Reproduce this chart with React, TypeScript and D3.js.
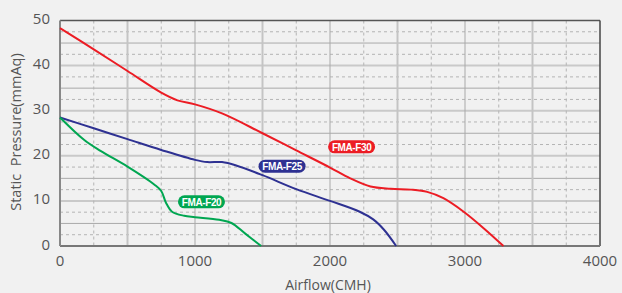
import * as d3 from "d3";

const W = 622;
const H = 293;
const MARGIN = { top: 20.5, right: 22, bottom: 47, left: 60 };

const xTicks = [0, 1000, 2000, 3000, 4000];
const yTicks = [0, 10, 20, 30, 40, 50];

// [airflow, pressure]
const f30: [number, number][] = [
  [0, 48.3], [250, 43.6], [500, 38.8], [750, 34.0], [870, 32.3], [1000, 31.4],
  [1200, 29.4], [1500, 25.0], [1750, 21.2], [2000, 17.4], [2150, 15.0],
  [2300, 13.2], [2450, 12.7], [2600, 12.5], [2720, 12.0], [2840, 10.6],
  [2990, 7.6], [3140, 3.9], [3285, 0],
];
const f25: [number, number][] = [
  [0, 28.5], [250, 26.1], [500, 23.7], [750, 21.3], [1000, 19.1], [1090, 18.6],
  [1200, 18.6], [1300, 17.9], [1500, 15.7], [1750, 12.6], [2000, 10.0],
  [2220, 7.6], [2320, 5.9], [2400, 3.6], [2490, 0],
];
const f20: [number, number][] = [
  [0, 28.5], [180, 23.5], [300, 21.1], [500, 17.6], [700, 13.6], [750, 12.2],
  [785, 9.6], [830, 7.6], [920, 6.7], [1000, 6.4], [1180, 5.8], [1270, 5.1],
  [1370, 2.8], [1490, 0],
];

const series = [
  { name: "FMA-F30", data: f30, color: "#ec1c24", label: [2160, 22.0] },
  { name: "FMA-F25", data: f25, color: "#2e3192", label: [1645, 17.7] },
  { name: "FMA-F20", data: f20, color: "#00a651", label: [1048, 9.8] },
];

export default function App() {
  const iw = W - MARGIN.left - MARGIN.right;
  const ih = H - MARGIN.top - MARGIN.bottom;
  const x = d3.scaleLinear().domain([0, 4000]).range([0, iw]);
  const y = d3.scaleLinear().domain([0, 50]).range([ih, 0]);

  const line = d3
    .line<[number, number]>()
    .x((d) => x(d[0]))
    .y((d) => y(d[1]))
    .curve(d3.curveCatmullRom.alpha(0.5));

  const vLines = d3.range(250, 4000, 250);
  const hLines = d3.range(2.5, 50, 2.5);

  return (
    <>
      <style>{`body{margin:0;background:#f1f1f1}`}</style>
      <svg width={W} height={H} style={{ display: "block", background: "#f1f1f1" }}>
        <g transform={`translate(${MARGIN.left},${MARGIN.top})`}>
          {hLines.map((v) => {
            const k = Math.round(v * 10) % 100;
            const major = k === 0;
            const solid = k === 50;
            return (
              <line
                key={"h" + v}
                x1={0}
                x2={iw}
                y1={y(v)}
                y2={y(v)}
                stroke={major ? "#c9c9c9" : solid ? "#a9a9a9" : "#b4b4b4"}
                strokeWidth={major ? 2 : 1}
                strokeDasharray={major || solid ? undefined : "3,3"}
              />
            );
          })}
          {vLines.map((v) => {
            const solid = v % 500 === 0;
            const light = v % 1000 === 500;
            return (
              <line
                key={"v" + v}
                x1={x(v)}
                x2={x(v)}
                y1={0}
                y2={ih}
                stroke={solid ? (light ? "#c4c4c4" : "#a9a9a9") : "#b4b4b4"}
                strokeWidth={solid && light ? 2 : 1}
                strokeDasharray={solid ? undefined : "3,3"}
              />
            );
          })}
          <line x1={0} x2={iw} y1={0} y2={0} stroke="#555" strokeWidth={1.5} />
          <line x1={iw} x2={iw} y1={0} y2={ih} stroke="#444" strokeWidth={1.5} />
          <line x1={0} x2={iw} y1={ih} y2={ih} stroke="#777" strokeWidth={2} />
          <line x1={0} x2={0} y1={0} y2={ih} stroke="#888" strokeWidth={2} />

          {series.map((s) => (
            <path key={s.name} d={line(s.data) ?? ""} fill="none" stroke={s.color} strokeWidth={2} />
          ))}

          {series.map((s) => {
            const cx = x(s.label[0]);
            const cy = y(s.label[1]);
            return (
              <g key={s.name + "l"} transform={`translate(${cx},${cy})`}>
                <rect x={-23.5} y={-6.5} width={47} height={13} rx={6.5} fill={s.color} />
                <text
                  textAnchor="middle"
                  dominantBaseline="central"
                  y={0.5}
                  fontFamily="Liberation Sans, Arial, sans-serif"
                  fontWeight="bold"
                  fontSize={10}
                  letterSpacing={-0.4}
                  fill="#fff"
                >
                  {s.name}
                </text>
              </g>
            );
          })}

          {yTicks.map((t) => (
            <text
              key={"yt" + t}
              x={-10}
              y={y(t) - 2.5}
              textAnchor="end"
              dominantBaseline="central"
              fontFamily="Open Sans, sans-serif"
              fontSize={15}
              fill="#555"
            >
              {t}
            </text>
          ))}
          {xTicks.map((t) => (
            <text
              key={"xt" + t}
              x={x(t)}
              y={ih + 14}
              textAnchor="middle"
              dominantBaseline="central"
              fontFamily="Open Sans, sans-serif"
              fontSize={15}
              fill="#555"
            >
              {t}
            </text>
          ))}
          <text
            x={iw / 2 - 2}
            y={ih + 38}
            textAnchor="middle"
            dominantBaseline="central"
            fontFamily="Open Sans, sans-serif"
            fontSize={14}
            fill="#555"
          >
            Airflow(CMH)
          </text>
        </g>
        <text
          transform={`translate(15,132) rotate(-90)`}
          textAnchor="middle"
          dominantBaseline="central"
          fontFamily="Open Sans, sans-serif"
          fontSize={14.5}
          fill="#555"
          style={{ whiteSpace: "pre" }}
        >
          {"Static  Pressure(mmAq)"}
        </text>
      </svg>
    </>
  );
}
